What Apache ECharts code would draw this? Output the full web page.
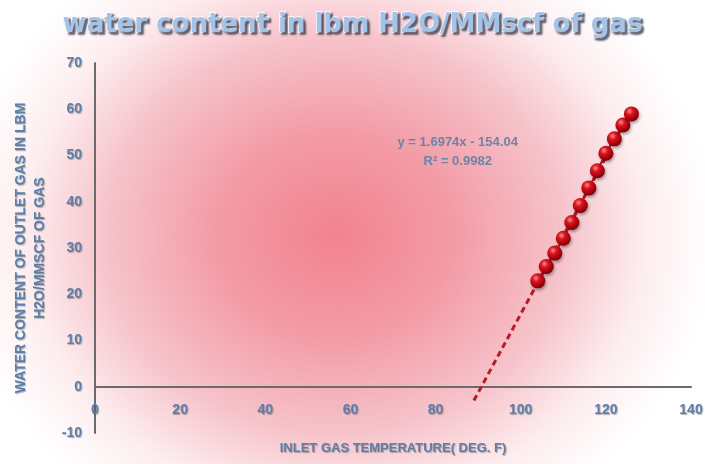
<!DOCTYPE html>
<html><head><meta charset="utf-8">
<script src="https://cdn.jsdelivr.net/npm/echarts@6/dist/echarts.min.js"></script>
<style>
html,body{margin:0;padding:0;background:#fff;}
#c{width:705px;height:464px;background:radial-gradient(ellipse 380px 330px at 335px 235px,#f2838f 0%,#f39aa5 30%,#f6c3ca 60%,#fdeef0 82%,#ffffff 100%);}
</style></head>
<body><div id="c"></div>
<script>
const temps = [104,106,108,110,112,114,116,118,120,122,124,126];
const water = [22.9,26.0,28.9,32.1,35.5,39.2,43.0,46.7,50.5,53.6,56.6,59.0];
const xTicks = [0,20,40,60,80,100,120,140];
const yTicks = [-10,0,10,20,30,40,50,60,70];
const trendSlope = 1.6974, trendIntercept = -154.04, trendR2 = 0.9982;
const trendRange = [89, 126];

const labelColor = '#5b7fab';
const pts = temps.map((t,i)=>[t, water[i]]);
const trend = trendRange.map(x=>[x, trendSlope*x + trendIntercept]);
const sphere = new echarts.graphic.RadialGradient(0.38,0.32,0.7,[
  {offset:0,color:'#ff8a8a'},{offset:0.35,color:'#d7141e'},{offset:0.8,color:'#a3000a'},{offset:1,color:'#6e0005'}]);
const lblShadow = {textShadowColor:'rgba(40,40,40,0.35)',textShadowOffsetX:1,textShadowOffsetY:1,textShadowBlur:1};
const narrow = 'Liberation Sans Narrow, Liberation Sans';

const chart = echarts.init(document.getElementById('c'));
chart.setOption({
  backgroundColor:'transparent',
  title:{text:'water content in lbm H2O/MMscf of gas',left:'center',top:7,
    textStyle:{fontFamily:'DejaVu Sans',fontWeight:'bold',fontSize:26,color:'#a4c3e6',
      textBorderColor:'#ffffff',textBorderWidth:1.5,textShadowColor:'rgba(40,40,60,0.7)',
      textShadowOffsetX:2,textShadowOffsetY:2,textShadowBlur:2}},
  grid:{left:95,right:14,top:63,bottom:31,outerBoundsMode:'none',containLabel:false},
  xAxis:{type:'value',min:0,max:140,interval:20,
    axisLine:{onZero:true,lineStyle:{color:'#6b6b6b',width:2}},axisTick:{show:false},splitLine:{show:false},
    axisLabel:Object.assign({margin:-30,color:labelColor,fontFamily:narrow,fontWeight:'bold',fontSize:14},lblShadow),
    name:'INLET GAS TEMPERATURE( DEG. F)',nameLocation:'middle',nameGap:9,
    nameTextStyle:Object.assign({color:labelColor,fontFamily:narrow,fontWeight:'bold',fontSize:13},lblShadow)},
  yAxis:{type:'value',min:-10,max:70,interval:10,
    axisLine:{show:true,lineStyle:{color:'#6b6b6b',width:2}},axisTick:{show:false},splitLine:{show:false},
    axisLabel:Object.assign({margin:13,color:labelColor,fontFamily:narrow,fontWeight:'bold',fontSize:14},lblShadow),
    name:'WATER CONTENT OF OUTLET GAS IN LBM\nH2O/MMSCF OF GAS',nameLocation:'middle',nameGap:45,
    nameTextStyle:Object.assign({color:labelColor,fontFamily:narrow,fontWeight:'bold',fontSize:14,lineHeight:19,align:'center'},lblShadow)},
  series:[
    {type:'line',data:trend,symbol:'none',silent:true,z:1,
      lineStyle:{color:'#b81c28',width:3,type:[6,4]}},
    {type:'line',data:pts,symbol:'circle',symbolSize:15,z:3,
      lineStyle:{color:'#c8101a',width:2},
      itemStyle:{color:sphere,shadowColor:'rgba(0,0,0,0.35)',shadowBlur:3,shadowOffsetX:1,shadowOffsetY:2}}
  ],
  animation:false
});
const eqPos = chart.convertToPixel({gridIndex:0},[85.2,50.7]);
chart.setOption({graphic:[{type:'text',x:eqPos[0],y:eqPos[1],
  style:{text:'y = '+trendSlope+'x - '+Math.abs(trendIntercept).toFixed(2)+'\nR² = '+trendR2,
    align:'center',verticalAlign:'middle',lineHeight:19,fill:'#6a85a8',
    font:'bold 13px "Liberation Sans Narrow", "Liberation Sans"'}}]});
</script></body></html>
